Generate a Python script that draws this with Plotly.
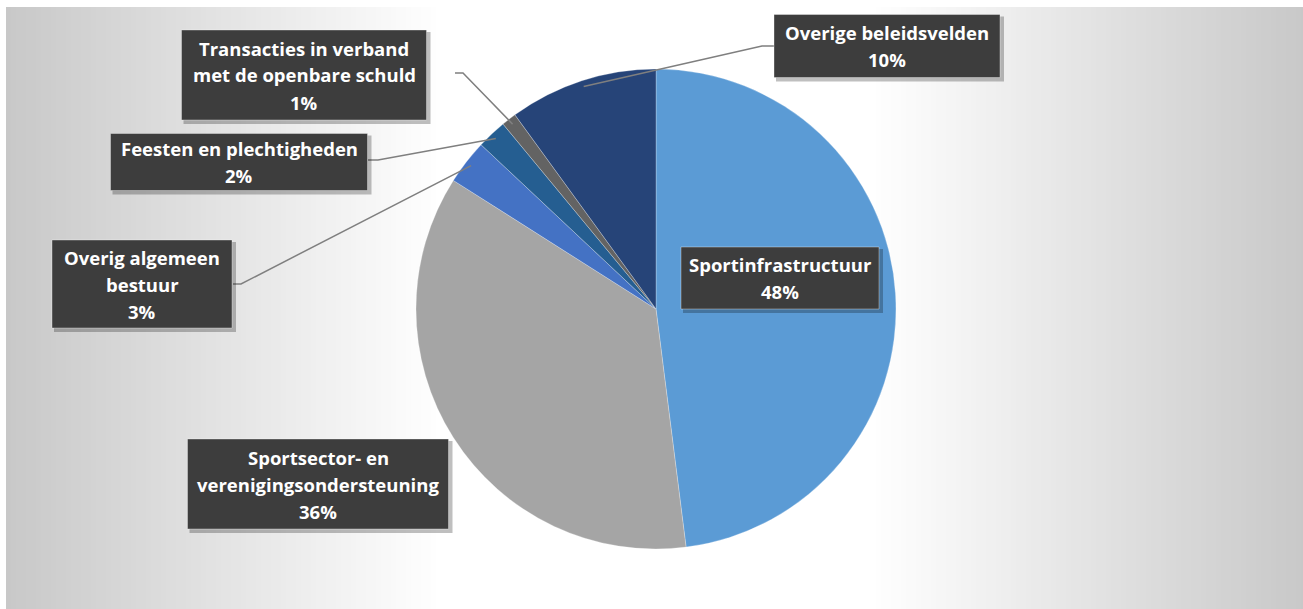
import math
import plotly.graph_objects as go

# ---------------- data ----------------
categories = [
    "Sportinfrastructuur",
    "Sportsector- en verenigingsondersteuning",
    "Overig algemeen bestuur",
    "Feesten en plechtigheden",
    "Transacties in verband met de openbare schuld",
    "Overige beleidsvelden",
]
values = [48, 36, 3, 2, 1, 10]
label_lines = [
    ["Sportinfrastructuur"],
    ["Sportsector- en", "verenigingsondersteuning"],
    ["Overig algemeen", "bestuur"],
    ["Feesten en plechtigheden"],
    ["Transacties in verband", "met de openbare schuld"],
    ["Overige beleidsvelden"],
]
colors = ["#5B9BD5", "#A5A5A5", "#4472C4", "#255E91", "#636363", "#264478"]

# ---------------- layout geometry (pixels) ----------------
W, H = 1303, 609
CX, CY, R = 656, 309, 240
# label boxes: center x, center y, width, height
boxes = [
    (780, 278, 198, 62),
    (318, 484, 261, 90),
    (142, 284, 180, 88),
    (239, 162, 257, 57),
    (304, 75, 245, 90),
    (887, 46, 226, 63),
]
# leader lines: (start x, start y, elbow x) or None
leaders = [
    None,
    None,
    (233, 284, 241),
    (368, 160, 378),
    (455, 73, 463),
    (774, 46, 762),
]


def px(x):
    return x / W


def py(y):
    return 1 - y / H


shapes = []
# background: white outer frame + gradient panel (light in the middle, grey at the sides)
x0, y0 = 6, 7
step = 5
x = x0
while x < W:
    d = abs(x + step / 2 - CX)
    t = min(1.0, max(0.0, (d - 215) / 435))
    c = int(round(255 - 55 * t))
    shapes.append(dict(type="rect", xref="paper", yref="paper",
                       x0=px(x), x1=px(min(x + step + 1, W)), y0=py(H), y1=py(y0),
                       fillcolor=f"rgb({c},{c},{c})", line=dict(width=0), layer="below"))
    x += step

# leader lines, endpoint computed from slice mid-angle
total = sum(values)
cum = 0
mid_angles = []
for v in values:
    mid_angles.append(360 * (cum + v / 2) / total)
    cum += v

for i, ld in enumerate(leaders):
    if ld is None:
        continue
    sx, sy, ex = ld
    a = math.radians(mid_angles[i])
    rr = R - 6
    tx = CX + rr * math.sin(a)
    ty = CY - rr * math.cos(a)
    path = f"M {px(sx)} {py(sy)} L {px(ex)} {py(sy)} L {px(tx)} {py(ty)}"
    shapes.append(dict(type="path", xref="paper", yref="paper", path=path,
                       line=dict(color="#7f7f7f", width=1.5), layer="above"))

annotations = []
for i, (bx, by, bw, bh) in enumerate(boxes):
    # shadow
    shapes.append(dict(type="rect", xref="paper", yref="paper",
                       x0=px(bx - bw / 2 + 2), x1=px(bx + bw / 2 + 4),
                       y0=py(by + bh / 2 + 4), y1=py(by - bh / 2 + 2),
                       fillcolor="rgba(0,0,0,0.25)", line=dict(width=0), layer="above"))
    shapes.append(dict(type="rect", xref="paper", yref="paper",
                       x0=px(bx - bw / 2), x1=px(bx + bw / 2),
                       y0=py(by + bh / 2), y1=py(by - bh / 2),
                       fillcolor="#3d3d3d", line=dict(color="rgba(255,255,255,0.35)", width=1),
                       layer="above"))
    lines = label_lines[i] + [f"{round(100 * values[i] / total)}%"]
    n = len(lines)
    lh = 27
    for j, t in enumerate(lines):
        yy = by + (j - (n - 1) / 2) * lh
        annotations.append(dict(text=t, x=px(bx), y=py(yy), xref="paper", yref="paper",
                                xanchor="center", yanchor="middle", showarrow=False,
                                font=dict(family="Open Sans", size=18.5, color="white", weight="bold")))

fig = go.Figure(go.Pie(
    labels=categories, values=values, sort=False, direction="clockwise", rotation=0,
    marker=dict(colors=colors, line=dict(color="rgba(255,255,255,0.5)", width=0.5)),
    textinfo="none", hoverinfo="label+percent", showlegend=False,
    domain=dict(x=[px(CX - R), px(CX + R)], y=[py(CY + R), py(CY - R)]),
))
fig.update_layout(width=W, height=H, margin=dict(l=0, r=0, t=0, b=0),
                  paper_bgcolor="white", plot_bgcolor="white",
                  shapes=shapes, annotations=annotations, showlegend=False)
fig.write_html("out.html", config={"displayModeBar": False},
               post_script="document.body.style.margin='0px';document.body.style.overflow='hidden';")
